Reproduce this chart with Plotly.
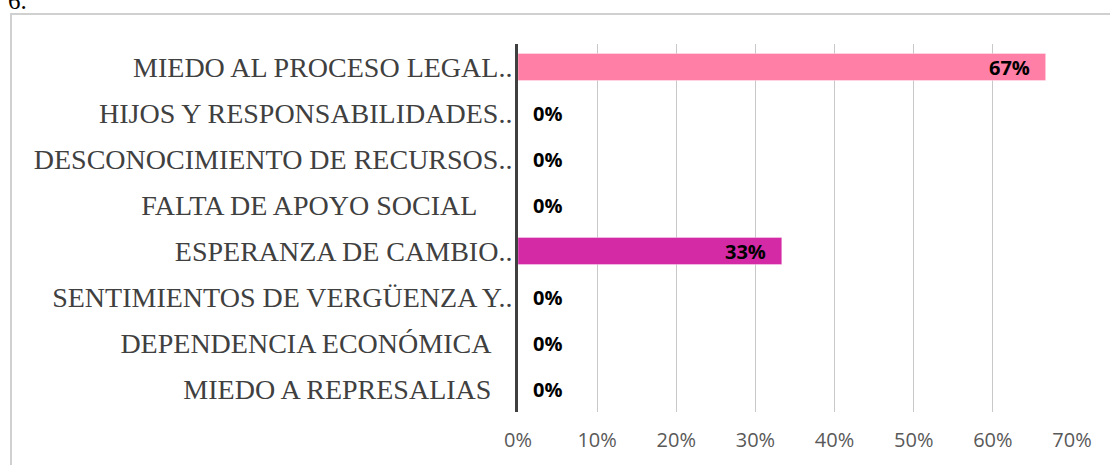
import plotly.graph_objects as go

categories = [
    "MIEDO AL PROCESO LEGAL..",
    "HIJOS Y RESPONSABILIDADES..",
    "DESCONOCIMIENTO DE RECURSOS..",
    "FALTA DE APOYO SOCIAL\u00a0\u00a0\u00a0\u00a0\u00a0",
    "ESPERANZA DE CAMBIO..",
    "SENTIMIENTOS DE VERGÜENZA Y..",
    "DEPENDENCIA ECONÓMICA\u00a0\u00a0\u00a0",
    "MIEDO A REPRESALIAS\u00a0\u00a0\u00a0",
]
values = [0.6667, 0, 0, 0, 0.3333, 0, 0, 0]
value_labels = ["67%", "0%", "0%", "0%", "33%", "0%", "0%", "0%"]
bar_colors = ["#FF7FA7", "#FF7FA7", "#FF7FA7", "#FF7FA7", "#D52AA6", "#FF7FA7", "#FF7FA7", "#FF7FA7"]
tick_vals = [0, 0.1, 0.2, 0.3, 0.4, 0.5, 0.6, 0.7]
tick_text = ["0%", "10%", "20%", "30%", "40%", "50%", "60%", "70%"]

W, H = 1110, 465
OFF = 0  # body margin removed below
# plot area in screenshot pixels
PX0, PX1, PY0, PY1 = 518, 1072, 44, 412
L = PX0 - OFF
R = W - (PX1 - OFF)
T = PY0 - OFF
B = H - (PY1 - OFF)
pw, ph = W - L - R, H - T - B

def px_x(p):
    return (p - OFF - L) / pw

def px_y(p):
    return (H - B - (p - OFF)) / ph

fig = go.Figure()
fig.add_trace(go.Bar(
    y=categories, x=values, orientation="h",
    marker=dict(color=bar_colors, line=dict(color="rgba(255,255,255,0.35)", width=1)),
    hoverinfo="skip",
))

for cat, v, lab in zip(categories, values, value_labels):
    if v > 0:
        fig.add_annotation(x=v, y=cat, text="<b>" + lab + "</b>", showarrow=False,
                           xanchor="right", xshift=-14,
                           font=dict(family="Open Sans", size=20, color="#000000"))
    else:
        fig.add_annotation(x=v, y=cat, text="<b>" + lab + "</b>", showarrow=False,
                           xanchor="left", xshift=13,
                           font=dict(family="Open Sans", size=20, color="#000000"))

# outer frame
fig.add_shape(type="rect", xref="paper", yref="paper",
              x0=px_x(11), x1=px_x(1125), y0=px_y(480), y1=px_y(14),
              line=dict(color="#D0D0D0", width=2), fillcolor="rgba(0,0,0,0)", layer="below")

fig.add_annotation(xref="paper", yref="paper", x=px_x(6), y=px_y(1),
                   xanchor="left", yanchor="middle", text="6.", showarrow=False,
                   font=dict(family="Liberation Serif", size=25, color="#000000"))

fig.update_layout(
    width=W, height=H,
    margin=dict(l=L, r=R, t=T, b=B, autoexpand=False),
    paper_bgcolor="white", plot_bgcolor="white",
    bargap=0.41, showlegend=False, hovermode=False,
    xaxis=dict(range=[0, 0.7], tickvals=tick_vals, ticktext=tick_text,
               showgrid=True, gridcolor="#C8C8C8", gridwidth=1,
               zeroline=False, showline=False, ticks="", ticklen=0,
               tickfont=dict(family="Open Sans", size=20, color="#595959"),
               ticklabelstandoff=14, fixedrange=True),
    yaxis=dict(autorange="reversed", showline=True, linecolor="#404040", linewidth=3,
               ticks="", ticklen=0, showgrid=False,
               tickfont=dict(family="Liberation Serif", size=28, color="#404040"),
               ticklabelstandoff=-3, fixedrange=True),
)

fig.write_html("out.html", config={"displayModeBar": False},
               post_script="document.body.style.margin='0';")
